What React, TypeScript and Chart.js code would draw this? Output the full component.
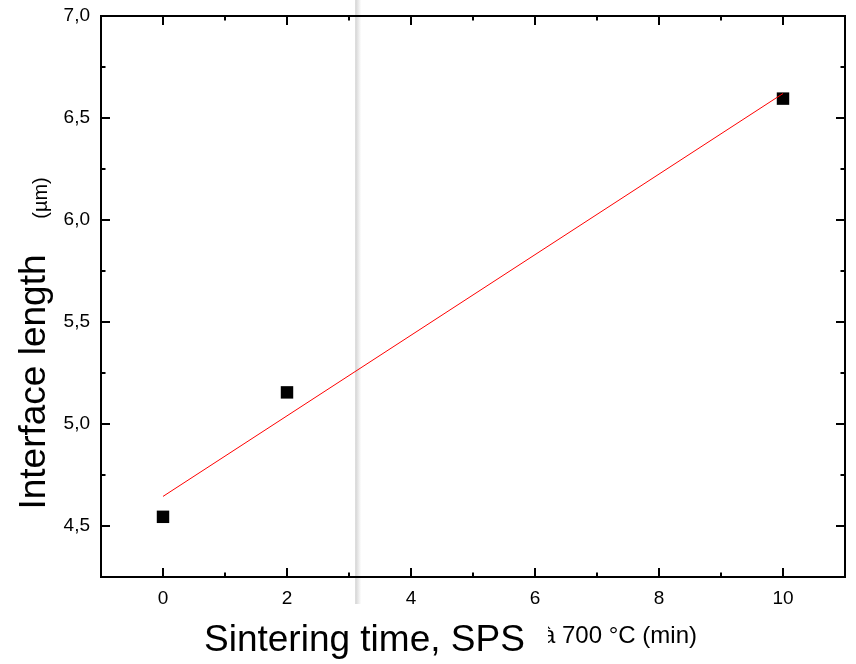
import React, { useEffect, useRef } from "react";
import { Chart, registerables } from "chart.js";

Chart.register(...registerables);

const sinteringTimes = [0, 2, 10];
const interfaceLengths = [4.545, 5.155, 6.595];
const fitTimes = [0, 10];
const fitLengths = [4.645, 6.62];
const xMajorTicks = [0, 2, 4, 6, 8, 10];
const xMinorTicks = [1, 3, 5, 7, 9];
const yMajorTicks = [4.5, 5.0, 5.5, 6.0, 6.5, 7.0];
const yMinorTicks = [4.75, 5.25, 5.75, 6.25, 6.75];
const xAxisTitle = "Sintering time, SPS";
const xAxisSubtitle = "à 700 °C (min)";
const yAxisTitle = "Interface length";
const yAxisUnit = "(µm)";
const markerLineX = 3.1;

const FONT = "'Liberation Sans', Arial, Helvetica, sans-serif";

export default function App() {
  const ref = useRef<HTMLCanvasElement | null>(null);

  useEffect(() => {
    document.body.style.margin = "0";
    const canvas = ref.current;
    if (!canvas) return;

    const decorPlugin = {
      id: "decor",
      beforeDatasetsDraw(chart: any) {
        const ctx = chart.ctx;
        const xs = chart.scales.x;
        const { bottom } = chart.chartArea;
        const px = xs.getPixelForValue(markerLineX);
        ctx.save();
        const g = ctx.createLinearGradient(px, 0, px + 6, 0);
        g.addColorStop(0, "rgba(210,210,210,1)");
        g.addColorStop(1, "rgba(255,255,255,1)");
        ctx.fillStyle = g;
        ctx.fillRect(px, 0, 6, bottom + 27);
        ctx.restore();
      },
      afterDatasetsDraw(chart: any) {
        const ctx = chart.ctx;
        const xs = chart.scales.x;
        const ys = chart.scales.y;
        const { left, right, top, bottom } = chart.chartArea;
        ctx.save();
        ctx.strokeStyle = "#000";
        ctx.lineWidth = 2;
        ctx.strokeRect(left, top, right - left, bottom - top);
        const major = 9;
        const minor = 4.5;
        ctx.beginPath();
        const xt = (v: number, len: number) => {
          const p = Math.round(xs.getPixelForValue(v));
          ctx.moveTo(p, bottom);
          ctx.lineTo(p, bottom - len);
          ctx.moveTo(p, top);
          ctx.lineTo(p, top + len);
        };
        const yt = (v: number, len: number) => {
          const p = Math.round(ys.getPixelForValue(v));
          ctx.moveTo(left, p);
          ctx.lineTo(left + len, p);
          ctx.moveTo(right, p);
          ctx.lineTo(right - len, p);
        };
        xMajorTicks.forEach((v) => xt(v, major));
        xMinorTicks.forEach((v) => xt(v, minor));
        yMajorTicks.forEach((v) => yt(v, major));
        yMinorTicks.forEach((v) => yt(v, minor));
        ctx.stroke();
        ctx.restore();
      },
      afterDraw(chart: any) {
        const ctx = chart.ctx;
        ctx.save();
        ctx.fillStyle = "#000";
        ctx.textBaseline = "alphabetic";
        // x subtitle, partly hidden at its left
        ctx.save();
        ctx.beginPath();
        ctx.rect(548, 600, 300, 64);
        ctx.clip();
        ctx.font = `24px ${FONT}`;
        ctx.textAlign = "left";
        ctx.fillText(xAxisSubtitle, 542, 643);
        ctx.restore();
        // x title
        ctx.font = `37px ${FONT}`;
        ctx.textAlign = "left";
        ctx.fillText(xAxisTitle, 204, 651);
        // y title
        ctx.save();
        ctx.translate(45, 382);
        ctx.rotate(-Math.PI / 2);
        ctx.textAlign = "center";
        ctx.font = `37px ${FONT}`;
        ctx.fillText(yAxisTitle, 0, 0);
        ctx.restore();
        ctx.save();
        ctx.translate(47, 198);
        ctx.rotate(-Math.PI / 2);
        ctx.textAlign = "center";
        ctx.font = `20px ${FONT}`;
        ctx.fillText(yAxisUnit, 0, 0);
        ctx.restore();
        ctx.restore();
      },
    };

    const chart = new Chart(canvas, {
      type: "scatter",
      data: {
        datasets: [
          {
            label: "fit",
            data: fitTimes.map((x, i) => ({ x, y: fitLengths[i] })),
            showLine: true,
            borderColor: "#ff0000",
            borderWidth: 1,
            pointRadius: 0,
            fill: false,
          },
          {
            label: "data",
            data: sinteringTimes.map((x, i) => ({ x, y: interfaceLengths[i] })),
            pointStyle: "rect",
            pointRadius: 8.8,
            pointBorderWidth: 0,
            backgroundColor: "#000",
            borderColor: "#000",
            showLine: false,
          },
        ],
      },
      options: {
        animation: false,
        responsive: false,
        layout: { padding: { left: 0, right: 11, top: 16, bottom: 0 } },
        plugins: {
          legend: { display: false },
          tooltip: { enabled: false },
        },
        scales: {
          x: {
            type: "linear",
            min: -1,
            max: 11,
            grid: { display: false, drawTicks: false },
            border: { display: false },
            afterBuildTicks: (s: any) => {
              s.ticks = xMajorTicks.map((v) => ({ value: v }));
            },
            afterFit: (s: any) => {
              s.height = 87;
              s.paddingLeft = 0;
              s.paddingRight = 0;
            },
            ticks: {
              padding: 10,
              color: "#000",
              font: { family: FONT, size: 19 },
              callback: (v: any) => String(v),
            },
          },
          y: {
            type: "linear",
            min: 4.25,
            max: 7.0,
            grid: { display: false, drawTicks: false },
            border: { display: false },
            afterBuildTicks: (s: any) => {
              s.ticks = yMajorTicks.map((v) => ({ value: v }));
            },
            afterFit: (s: any) => {
              s.width = 101;
              s.paddingTop = 0;
              s.paddingBottom = 0;
            },
            ticks: {
              padding: 11,
              color: "#000",
              font: { family: FONT, size: 19 },
              callback: (v: any) => Number(v).toFixed(1).replace(".", ","),
            },
          },
        },
      },
      plugins: [decorPlugin],
    } as any);

    return () => chart.destroy();
  }, []);

  return (
    <canvas
      ref={ref}
      width={856}
      height={664}
      style={{ display: "block", width: 856, height: 664 }}
    />
  );
}
